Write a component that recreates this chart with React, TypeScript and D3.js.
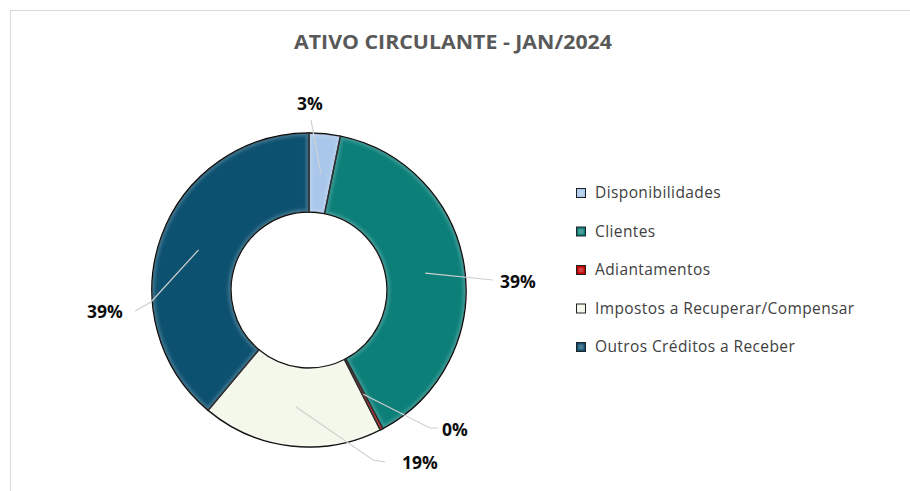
import React, { useEffect, useRef } from 'react';
import * as d3 from 'd3';

const categories = [
  'Disponibilidades',
  'Clientes',
  'Adiantamentos',
  'Impostos a Recuperar/Compensar',
  'Outros Créditos a Receber',
];
const shares = [3.2, 39.0, 0.3, 18.6, 38.9];
const colors = ['#a9c7ea', '#0c7f79', '#c00000', '#f4f8ea', '#0d5170'];
const title = 'ATIVO CIRCULANTE - JAN/2024';

// label placement, relative to the donut centre (Excel "best fit" style)
const labelSpots = [
  { label: [1, -186], elbow: null, end: [2, -170] },
  { label: [209, -8], elbow: null, end: [184, -10] },
  { label: [146, 140], elbow: [121, 138], end: [129, 138] },
  { label: [111, 173], elbow: [64, 170], end: [76, 172] },
  { label: [-204, 22], elbow: [-158, 12], end: [-174, 21] },
];

const W = 910;
const H = 491;

const App = () => {
  const ref = useRef(null);

  useEffect(() => {
    const svg = d3.select(ref.current);
    svg.selectAll('*').remove();

    const defs = svg.append('defs');
    defs.append('filter')
      .attr('id', 'soft')
      .attr('x', '-20%').attr('y', '-20%').attr('width', '140%').attr('height', '140%')
      .append('feGaussianBlur')
      .attr('stdDeviation', 1.4);

    // chart frame
    svg.append('rect')
      .attr('width', W).attr('height', H).attr('fill', '#fff');
    svg.append('path')
      .attr('d', `M10.5,${H} V10.5 H${W}`)
      .attr('fill', 'none')
      .attr('stroke', '#d9d9d9')
      .attr('stroke-width', 1);

    svg.append('text')
      .attr('x', 453)
      .attr('y', 49)
      .attr('text-anchor', 'middle')
      .attr('font-family', "'Open Sans', sans-serif")
      .attr('font-weight', 700)
      .attr('font-size', 19)
      .attr('fill', '#595959')
      .attr('textLength', 318)
      .attr('lengthAdjust', 'spacingAndGlyphs')
      .text(title);

    const cx = 309;
    const cy = 290;
    const outerR = 157;
    const innerR = 78;

    const pie = d3.pie<number>().sort(null).value((d) => d);
    const arcs = pie(shares);
    const arc = d3.arc<d3.PieArcDatum<number>>().innerRadius(innerR).outerRadius(outerR);
    const total = d3.sum(shares);

    const g = svg.append('g').attr('transform', `translate(${cx},${cy})`);

    arcs.forEach((a, i) => {
      const clipId = `clip-${i}`;
      defs.append('clipPath').attr('id', clipId)
        .append('path').attr('d', arc(a)).attr('transform', `translate(${cx},${cy})`);

      g.append('path')
        .attr('d', arc(a))
        .attr('fill', colors[i]);

      // soft bevel highlight along the slice edges, kept inside the slice
      svg.append('g')
        .attr('clip-path', `url(#${clipId})`)
        .append('path')
        .attr('transform', `translate(${cx},${cy})`)
        .attr('d', arc(a))
        .attr('fill', 'none')
        .attr('stroke', '#fff')
        .attr('stroke-opacity', 0.2)
        .attr('stroke-width', 6)
        .attr('filter', 'url(#soft)');
    });

    arcs.forEach((a) => {
      g.append('path')
        .attr('d', arc(a))
        .attr('fill', 'none')
        .attr('stroke', '#000')
        .attr('stroke-width', 1.4)
        .attr('stroke-linejoin', 'round');
    });

    // leader lines and percentage labels
    arcs.forEach((a, i) => {
      const spot = labelSpots[i];
      const c = arc.centroid(a);
      const pts = [c, spot.elbow, spot.end].filter(Boolean);
      g.append('path')
        .attr('d', d3.line()(pts))
        .attr('fill', 'none')
        .attr('stroke', '#d0d0d0')
        .attr('stroke-width', 1.2);

      g.append('text')
        .attr('x', spot.label[0])
        .attr('y', spot.label[1])
        .attr('dy', '0.36em')
        .attr('text-anchor', 'middle')
        .attr('font-family', "'Open Sans', sans-serif")
        .attr('font-weight', 700)
        .attr('font-size', 17.5)
        .attr('fill', '#0d0d0d')
        .text(`${Math.round((a.data / total) * 100)}%`);
    });

    // legend
    const legendY = d3.scalePoint().domain(categories).range([193, 347]);
    const legend = svg.append('g');
    categories.forEach((name, i) => {
      const y = legendY(name);
      legend.append('rect')
        .attr('x', 576.5).attr('y', y - 4.5)
        .attr('width', 9).attr('height', 9)
        .attr('fill', colors[i])
        .attr('stroke', '#222')
        .attr('stroke-width', 1);
      legend.append('rect')
        .attr('x', 578.5).attr('y', y - 2.5)
        .attr('width', 5).attr('height', 5)
        .attr('fill', '#fff')
        .attr('fill-opacity', 0.25);
      legend.append('text')
        .attr('x', 595)
        .attr('y', y)
        .attr('dy', '0.35em')
        .attr('font-family', "'Open Sans', sans-serif")
        .attr('font-size', 15.5)
        .attr('letter-spacing', 0.4)
        .attr('fill', '#404040')
        .text(name);
    });
  }, []);

  return (
    <svg
      ref={ref}
      width={W}
      height={H}
      style={{ position: 'absolute', left: 0, top: 0 }}
    />
  );
};

export default App;
